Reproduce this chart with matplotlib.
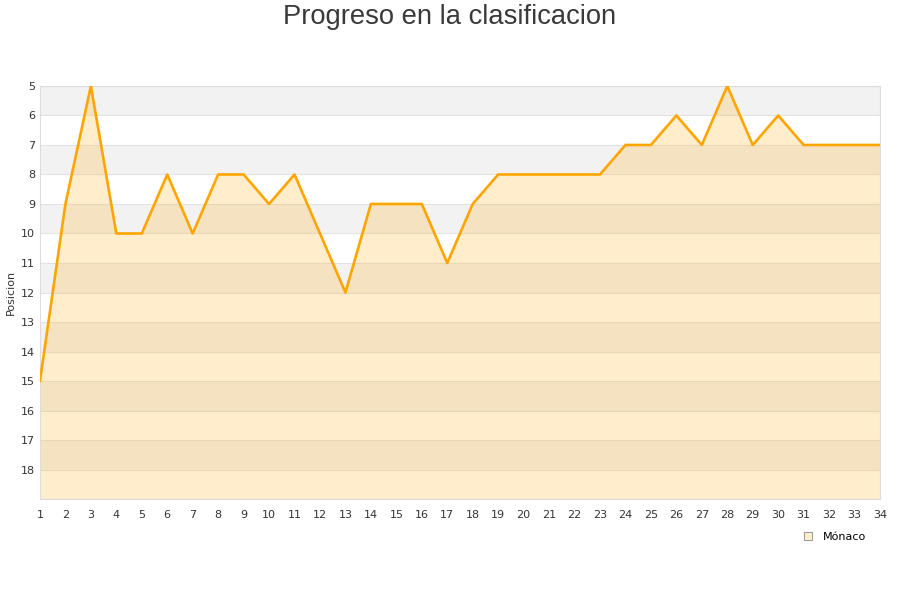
import numpy as np
import matplotlib.pyplot as plt

jornadas = list(range(1, 35))
posiciones = [15, 9, 5, 10, 10, 8, 10, 8, 8, 9, 8, 10, 12, 9, 9, 9, 11, 9, 8, 8,
              8, 8, 8, 7, 7, 6, 7, 5, 7, 6, 7, 7, 7, 7]
equipo = 'Mónaco'
titulo = 'Progreso en la clasificacion'

fig = plt.figure(figsize=(9, 6), dpi=100)
ax = fig.add_axes([0.0444, 0.1683, 0.9334, 0.6884])

# bandas alternas de fondo
for p in range(5, 19, 2):
    ax.axhspan(p, p + 1, color='#f2f2f2', zorder=0, lw=0)
for p in range(5, 20):
    ax.axhline(p, color='#e3e3e3', lw=0.8, zorder=1)

ax.fill_between(jornadas, posiciones, 19, color='#ffa500', alpha=0.2, lw=0, zorder=2)
ax.plot(jornadas, posiciones, color='#ffa500', lw=1.9, zorder=3)

ax.set_xlim(1, 34)
ax.set_ylim(19, 5)
ax.set_xticks(jornadas)
ax.set_yticks(range(5, 19))
ax.tick_params(labelsize=8, colors='#333333', length=0)
ax.tick_params(axis='x', pad=8)
for s in ax.spines.values():
    s.set_color('#dddddd')
ax.set_ylabel('Posicion', fontsize=8, color='#333333', labelpad=4)

fig.text(0.5, 0.972, titulo, ha='center', va='center', fontsize=19.7,
         color='#3a3a3a', family='Liberation Sans')

ax.plot([], [], 's', ms=6, mfc='#ffedcc', mec='#888888', mew=0.6, label=equipo)
ax.legend(loc='upper right', bbox_to_anchor=(0.995, -0.055), frameon=False,
          fontsize=8, handletextpad=0.3)

fig.savefig('out.png', dpi=100)
